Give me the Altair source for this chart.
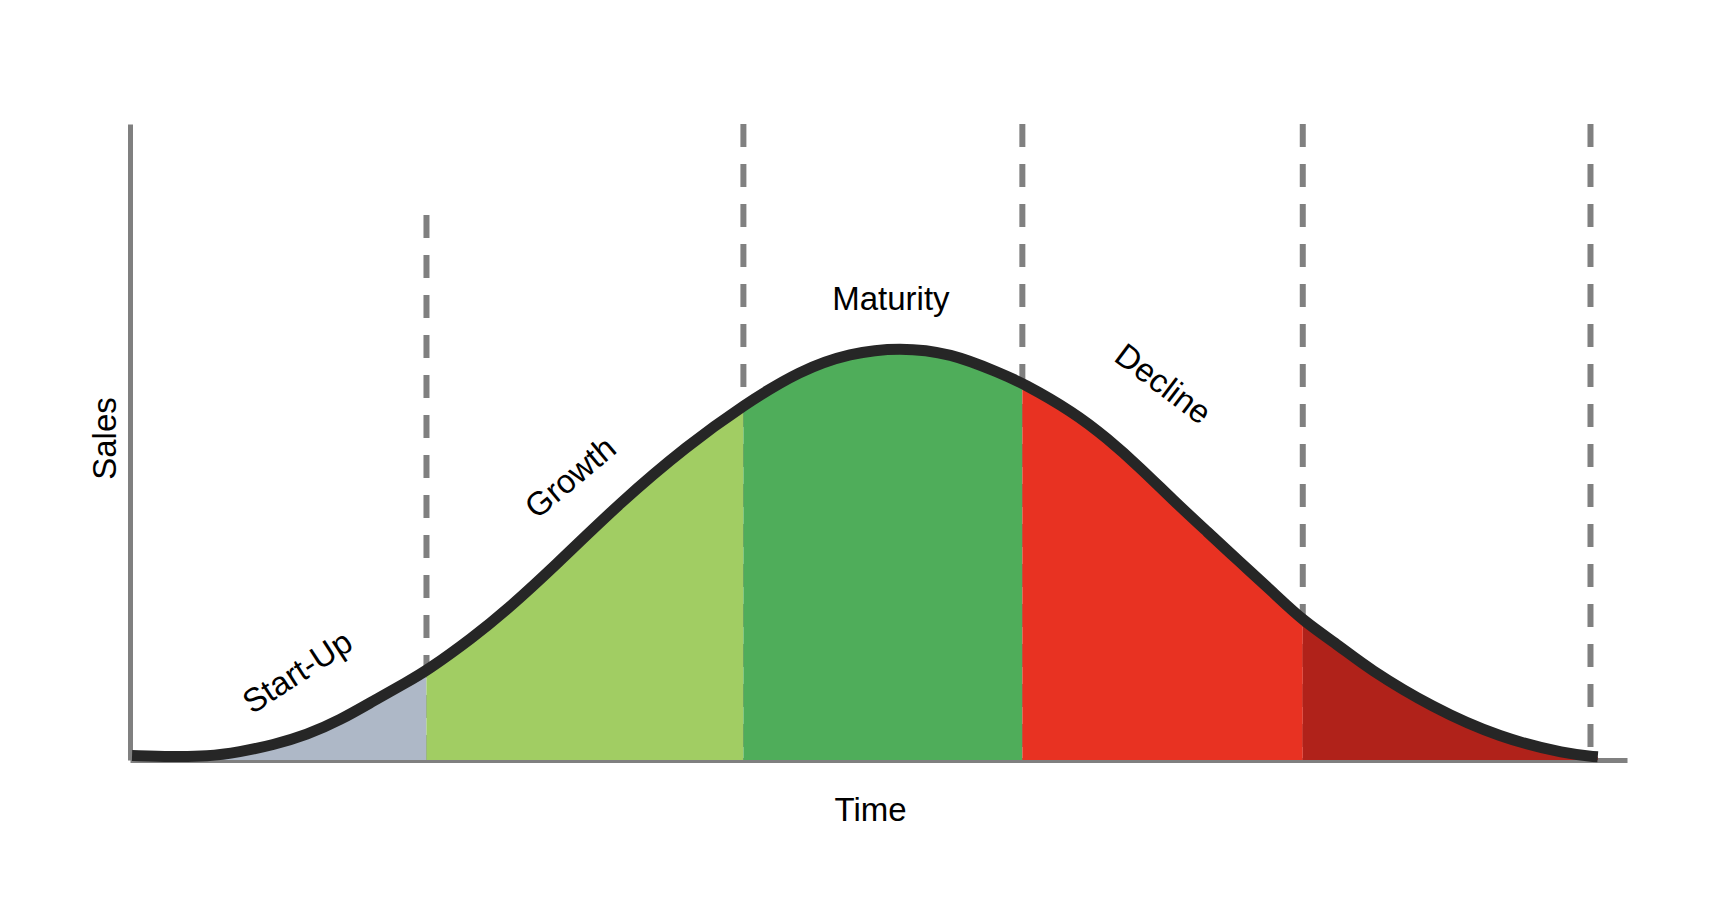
import altair as alt
import pandas as pd

# Curve (time units, sales units)
time_pts = [0.14, 2.9, 5.3, 7.5, 9.8, 12.1, 14.4, 16.6, 19.0, 20.3, 23.5, 25.8,
            29.0, 33.6, 38.2, 42.0, 45.9, 49.3, 52.7, 56.2, 59.6, 61.1, 64.6,
            66.9, 69.2, 71.4, 73.8, 76.0, 78.3, 80.3, 82.9, 84.7, 89.2, 93.8,
            98.4, 100.5]
sales_pts = [0.7, 0.5, 0.55, 1.26, 2.36, 3.93, 6.29, 9.2, 12.3, 14.0, 19.3, 23.6,
             30.3, 40.6, 49.5, 55.8, 61.3, 64.0, 64.9, 64.0, 60.8, 59.3, 54.7,
             50.6, 45.9, 40.9, 35.8, 31.1, 26.3, 21.9, 17.8, 14.5, 8.2, 3.5,
             0.9, 0.5]

# Phases
phase_names = ["Start-Up", "Growth", "Maturity", "Decline", "Late Decline"]
phase_bounds = [0.14, 20.3, 42.0, 61.1, 80.3, 100.5]
phase_colors = ["#aeb8c7", "#a1cd63", "#4fad5a", "#e83222", "#b0221a"]

# Dashed dividers
divider_x = [20.3, 42.0, 61.1, 80.3, 100.0]
divider_top = [85.7, 100.0, 100.0, 100.0, 100.0]

# Labels
label_text = ["Start-Up", "Growth", "Maturity", "Decline"]
label_t = [11.5, 30.2, 52.1, 70.7]
label_y = [13.7, 44.3, 72.3, 59.0]
label_angle = [327, 320, 0, 37]

FONT = "Liberation Sans"
GRAY = "#808080"

curve_df = pd.DataFrame({"t": time_pts, "y": sales_pts})

rows = []
for i, name in enumerate(phase_names):
    a, b = phase_bounds[i], phase_bounds[i + 1]
    for t, y in zip(time_pts, sales_pts):
        if a <= t <= b:
            rows.append({"t": t, "y": y, "phase": name, "base": 0.0})
area_df = pd.DataFrame(rows)

div_df = pd.DataFrame({"t": divider_x, "y": divider_top, "base": [0.0] * len(divider_x)})
lab_df = pd.DataFrame({"label": label_text, "t": label_t, "y": label_y, "angle": label_angle})

xscale = alt.Scale(domain=[0, 102.5], nice=False, zero=False)
yscale = alt.Scale(domain=[0, 100], nice=False, zero=False)

x_axis = alt.Axis(title="Time", ticks=False, labels=False, grid=False,
                  domainColor=GRAY, domainWidth=5, zindex=0,
                  titleFont=FONT, titleFontSize=33, titleFontWeight="normal",
                  titleColor="black", titleX=740, titleY=50, titleAngle=0,
                  titleAlign="center", titleBaseline="middle")
y_axis = alt.Axis(title="Sales", ticks=False, labels=False, grid=False,
                  domainColor=GRAY, domainWidth=5, zindex=0,
                  titleFont=FONT, titleFontSize=33, titleFontWeight="normal",
                  titleColor="black", titleX=-25, titleY=314, titleAngle=270,
                  titleAlign="center", titleBaseline="middle")

X = alt.X("t:Q", scale=xscale, axis=x_axis, title="Time")
Y = alt.Y("y:Q", scale=yscale, axis=y_axis, title="Sales")

dividers = alt.Chart(div_df).mark_rule(
    color=GRAY, strokeWidth=6, strokeDash=[23, 17]
).encode(x=X, y=Y, y2="base:Q")

areas = alt.Chart(area_df).mark_area(interpolate="basis").encode(
    x=X,
    y=alt.Y("y:Q", scale=yscale, axis=y_axis, title="Sales", stack=None),
    y2="base:Q",
    color=alt.Color("phase:N", scale=alt.Scale(domain=phase_names, range=phase_colors), legend=None),
    detail="phase:N",
)

curve = alt.Chart(curve_df).mark_line(
    interpolate="basis", color="#262626", strokeWidth=11
).encode(x=X, y=Y)

labels = alt.Chart(lab_df).mark_text(
    font=FONT, fontSize=33, color="black", align="center", baseline="middle"
).encode(
    x=X, y=Y,
    text="label:N",
    angle=alt.Angle("angle:Q", scale=None),
)

chart = alt.layer(dividers, areas, curve, labels).properties(
    width=1497, height=636,
    autosize=alt.AutoSizeParams(type="none"),
    padding={"left": 122, "top": 116, "right": 93, "bottom": 136},
    background="white",
).configure_view(stroke=None)

chart.save("out.html", embed_options={"renderer": "svg", "actions": False})
